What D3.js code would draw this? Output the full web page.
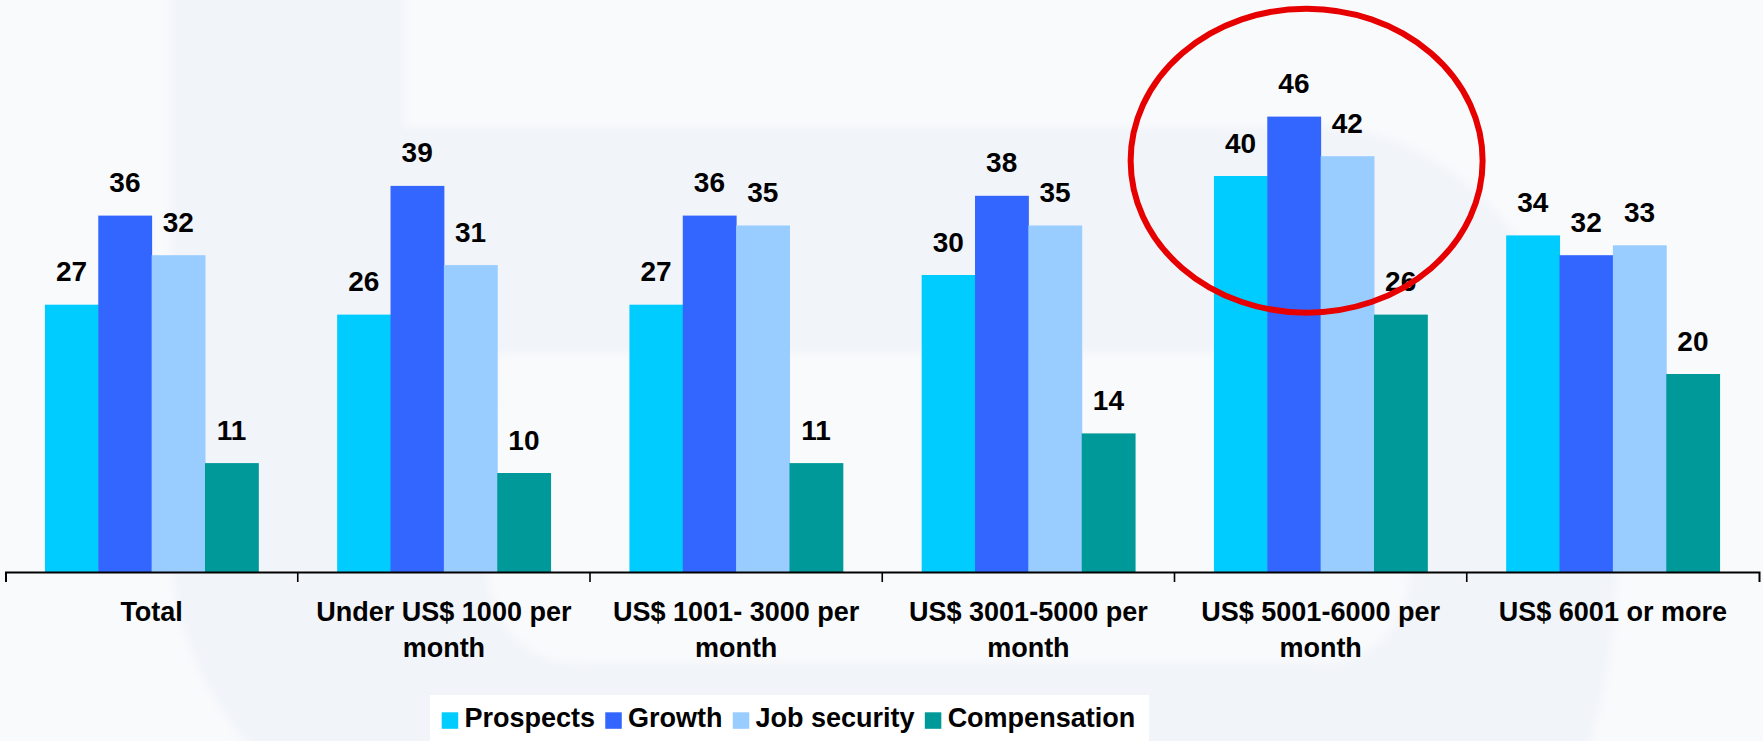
<!DOCTYPE html>
<html>
<head>
<meta charset="utf-8">
<script src="https://cdn.jsdelivr.net/npm/d3@7"></script>
<style>
  html, body { margin: 0; padding: 0; background: #f9fafc; }
  svg { display: block; }
  text { font-family: "Liberation Sans", Arial, sans-serif; font-weight: bold; fill: #000; }
</style>
</head>
<body>
<svg id="chart" width="1763" height="741"></svg>
<script>
// ---- data ----
const categories = [
  "Total",
  "Under US$ 1000 per month",
  "US$ 1001- 3000 per month",
  "US$ 3001-5000 per month",
  "US$ 5001-6000 per month",
  "US$ 6001 or more"
];
const seriesNames = ["Prospects", "Growth", "Job security", "Compensation"];
const prospects    = [27, 26, 27, 30, 40, 34];
const growth       = [36, 39, 36, 38, 46, 32];
const jobSecurity  = [32, 31, 35, 35, 42, 33];
const compensation = [11, 10, 11, 14, 26, 20];
const seriesColors = ["#00ccff", "#3366ff", "#99ccff", "#009999"];
const highlightedCategory = "US$ 5001-6000 per month";

const seriesValues = [prospects, growth, jobSecurity, compensation];
const rows = categories.map((c, i) => ({
  category: c,
  values: seriesNames.map((s, j) => ({ series: s, value: seriesValues[j][i] }))
}));

// ---- layout ----
const W = 1763, H = 741;
const baseY = 572;
const svg = d3.select("#chart");

const x0 = d3.scaleBand().domain(categories).range([5.5, 1759]).paddingInner(0).paddingOuter(0);
const x1 = d3.scaleBand().domain(seriesNames).range([0, x0.bandwidth()]).paddingInner(0).paddingOuter(0.739);
const y = d3.scaleLinear().domain([0, 50]).range([baseY, baseY - 495]);
const color = d3.scaleOrdinal().domain(seriesNames).range(seriesColors);

// ---- background with soft watermark letter ----
const defs = svg.append("defs");
defs.append("filter").attr("id", "soft").attr("x", "-5%").attr("y", "-5%").attr("width", "110%").attr("height", "110%")
  .append("feGaussianBlur").attr("stdDeviation", 4);

svg.append("rect").attr("width", W).attr("height", H).attr("fill", "#f9fafc");
svg.append("path")
  .attr("filter", "url(#soft)")
  .attr("fill", "#f1f4f9")
  .attr("fill-rule", "evenodd")
  .attr("d",
    "M170,-20 L405,-20 L405,127 L1330,127 C1480,135 1600,300 1615,520 C1622,620 1605,700 1585,760 L262,760 " +
    "C205,700 172,630 170,540 Z " +
    "M497,353 L1320,353 C1380,353 1410,400 1410,470 L1410,560 C1410,620 1380,663 1320,663 L580,663 " +
    "C525,663 490,625 488,570 Z");

// ---- legend box (under the bars layer) ----
const legend = svg.append("g");
legend.append("rect").attr("x", 430).attr("y", 695).attr("width", 719).attr("height", 60).attr("fill", "#ffffff");

// ---- bars ----
const groups = svg.append("g").selectAll("g")
  .data(rows).join("g")
  .attr("transform", d => `translate(${x0(d.category)},0)`);

groups.selectAll("rect")
  .data(d => d.values).join("rect")
  .attr("x", d => x1(d.series))
  .attr("width", x1.bandwidth() + 0.5)
  .attr("y", d => y(d.value))
  .attr("height", d => y(0) - y(d.value))
  .attr("fill", d => color(d.series));

groups.selectAll("text.val")
  .data(d => d.values).join("text")
  .attr("class", "val")
  .attr("x", d => x1(d.series) + x1.bandwidth() / 2)
  .attr("y", d => y(d.value) - 23.5)
  .attr("text-anchor", "middle")
  .style("font-size", "28px")
  .text(d => d.value);

// ---- category axis ----
const axisG = svg.append("g")
  .attr("transform", `translate(0,${baseY})`)
  .call(d3.axisBottom(x0).tickSize(0).tickSizeOuter(10).tickPadding(29.8));

axisG.select(".domain").attr("stroke", "#000").attr("stroke-width", 2);
axisG.selectAll(".tick text")
  .style("font-size", "27px")
  .style("font-family", "'Liberation Sans', Arial, sans-serif")
  .style("font-weight", "bold")
  .attr("fill", "#000")
  .call(wrap, 285, 36);

// tick marks sit on the boundaries between categories
axisG.selectAll("line.sep")
  .data(categories.slice(1)).join("line")
  .attr("class", "sep")
  .attr("x1", d => x0(d)).attr("x2", d => x0(d))
  .attr("y1", 0).attr("y2", 10)
  .attr("stroke", "#000").attr("stroke-width", 1.6);

// break long category names onto extra lines
function wrap(texts, width, lineHeight) {
  texts.each(function () {
    const t = d3.select(this);
    const words = t.text().split(/\s+/);
    const dy = t.attr("dy");
    const y0 = t.attr("y");
    t.text(null);
    let line = [];
    let lineNo = 0;
    let tspan = t.append("tspan").attr("x", 0).attr("y", y0).attr("dy", dy);
    for (const w of words) {
      line.push(w);
      tspan.text(line.join(" "));
      if (tspan.node().getComputedTextLength() > width && line.length > 1) {
        line.pop();
        tspan.text(line.join(" "));
        line = [w];
        lineNo++;
        tspan = t.append("tspan").attr("x", 0).attr("y", y0)
          .attr("dy", `${lineNo * lineHeight + 19.2}px`).text(w);
      }
    }
  });
}

// ---- legend items ----
let lx = 441.7;
seriesNames.forEach(name => {
  legend.append("rect")
    .attr("x", lx).attr("y", 712.3).attr("width", 16.5).attr("height", 16.5)
    .attr("fill", color(name));
  const t = legend.append("text")
    .attr("x", lx + 22.8).attr("y", 727)
    .style("font-size", "27px")
    .text(name);
  lx = lx + 22.8 + t.node().getComputedTextLength() + 10.2;
});

// ---- highlight ring around the top-earning group ----
const hx = x0(highlightedCategory) + x0.bandwidth() / 2 - 14;
svg.append("ellipse")
  .attr("cx", hx).attr("cy", 160.7)
  .attr("rx", 176).attr("ry", 152)
  .attr("fill", "none")
  .attr("stroke", "#e60000")
  .attr("stroke-width", 6);
</script>
</body>
</html>
